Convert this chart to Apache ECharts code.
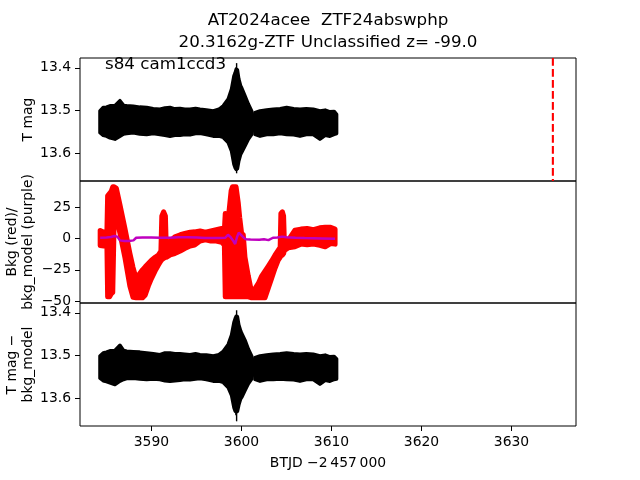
<!DOCTYPE html>
<html><head><meta charset="utf-8">
<script src="https://cdn.jsdelivr.net/npm/echarts@6/dist/echarts.min.js"></script>
<style>html,body{margin:0;padding:0;background:#fff}#c{width:640px;height:480px}</style>
</head><body><div id="c"></div>
<script>
// ---------- tick labels ----------
const xTicks = [3590, 3600, 3610, 3620, 3630];
const magTicks = [13.4, 13.5, 13.6];
const bkgTicks = [-50, -25, 0, 25];

// ---------- panel 1: T mag (band envelope) ----------
const magT1  = [3584.28,3584.64,3585.0,3585.39,3585.94,3586.5,3586.9,3587.24,3587.98,3588.7,3589.47,3590.2,3590.94,3591.5,3592.06,3592.6,3593.17,3593.7,3594.28,3594.9,3595.39,3596.1,3596.87,3597.5,3597.98,3598.53,3598.9,3599.17,3599.3,3599.42,3599.55,3599.7,3599.9,3600.02,3600.39,3600.76,3601.13,3601.31];
const magHi1 = [13.501,13.493,13.492,13.489,13.489,13.477,13.488,13.489,13.490,13.492,13.493,13.496,13.497,13.494,13.493,13.496,13.495,13.497,13.497,13.495,13.497,13.499,13.501,13.497,13.489,13.473,13.450,13.419,13.412,13.403,13.405,13.426,13.442,13.447,13.466,13.485,13.501,13.520];
const magLo1 = [13.552,13.558,13.560,13.564,13.567,13.560,13.555,13.554,13.552,13.555,13.556,13.554,13.556,13.558,13.560,13.558,13.558,13.556,13.557,13.554,13.553,13.556,13.560,13.560,13.563,13.575,13.595,13.626,13.634,13.638,13.636,13.618,13.603,13.598,13.583,13.567,13.556,13.536];
const magT1b  = [3601.5,3602.06,3602.8,3603.54,3604.3,3605.02,3605.8,3606.5,3607.2,3607.98,3608.72,3609.3,3609.83,3610.3,3610.57];
const magHi1b = [13.505,13.501,13.499,13.497,13.496,13.493,13.496,13.497,13.496,13.497,13.501,13.499,13.503,13.502,13.509];
const magLo1b = [13.556,13.560,13.556,13.556,13.554,13.556,13.557,13.560,13.556,13.556,13.567,13.558,13.560,13.556,13.554];
const errT1  = [3599.46, 3599.38];
const errHi1 = [13.389, 13.405];
const errLo1 = [13.647, 13.640];
const markerT = [3634.6];   // red dashed vertical line

// ---------- panel 2: background (red) and bkg_model (purple) ----------
const bkgT  = [3584.30,3584.70,3585.05,3585.13,3585.35,3585.55,3585.70,3585.85,3586.10,3586.50,3587.06,3587.60,3587.95,3588.30,3588.60,3589.00,3589.30,3589.65,3590.00,3590.40,3590.76,3591.05,3591.15,3591.35,3591.55,3591.65,3592.10,3592.60,3593.20,3593.70,3594.30,3594.80,3595.40,3596.00,3596.60,3597.20,3597.80,3598.10,3598.20,3598.55,3598.85,3599.00,3599.40,3599.65,3599.80,3600.02,3600.20,3600.39,3600.76,3601.13,3601.50,3601.87,3602.24,3602.61,3602.98,3603.35,3603.72,3604.09,3604.30,3604.38,3604.55,3604.68,3604.78,3605.20,3605.94,3606.60,3607.30,3608.00,3608.70,3609.30,3609.90,3610.40];
const bkgHi = [6.4,5.0,6.0,34.0,36.0,38.0,41.3,41.3,40.0,27.0,7.7,-11.7,-23.0,-32.0,-29.0,-25.0,-22.6,-20.0,-17.3,-15.0,-13.3,-10.0,18.0,21.3,18.0,-8.0,-2.0,1.4,3.0,4.0,5.0,5.3,6.0,5.0,6.0,7.0,8.0,6.6,20.0,17.0,38.0,41.3,41.3,28.0,17.0,4.0,3.0,-15.0,-30.0,-43.0,-40.0,-35.9,-30.0,-26.0,-22.0,-17.9,-13.3,-9.3,-7.0,20.0,21.3,18.0,-5.5,-1.3,6.6,7.5,8.0,7.0,8.5,9.0,9.0,7.5];
const bkgLo = [-5.6,-6.0,-6.0,-46.6,-46.6,-44.0,-43.0,12.0,17.6,4.0,-15.6,-38.0,-47.0,-47.4,-47.4,-47.4,-45.3,-38.0,-32.0,-26.0,-21.3,-18.0,-17.0,-16.0,-15.0,-15.0,-13.0,-12.0,-10.0,-8.0,-6.0,-5.3,-2.0,-1.0,-2.0,-2.0,-3.0,-5.3,-46.6,-46.6,-46.6,-46.6,-46.6,-46.6,-46.6,-46.6,-46.6,-46.6,-46.6,-47.4,-47.4,-47.4,-47.4,-47.4,-39.6,-31.9,-24.0,-17.3,-15.0,-14.0,-13.3,-12.0,-9.5,-7.5,-6.6,-4.5,-5.0,-4.5,-5.5,-6.6,-4.0,-4.5];
const modelT = [3584.3,3585.0,3585.5,3585.9,3586.2,3586.5,3587.0,3587.5,3588.0,3588.3,3589.0,3590.0,3591.0,3592.0,3593.0,3594.0,3595.0,3596.0,3597.0,3597.5,3598.2,3598.5,3598.8,3599.1,3599.3,3599.5,3599.7,3599.9,3600.2,3600.5,3601.0,3602.0,3602.5,3603.0,3603.5,3604.0,3604.5,3605.0,3606.0,3607.0,3608.0,3609.0,3610.4];
const modelV = [0.6,0.8,1.2,2.0,1.5,-1.5,-2.0,-2.0,-1.5,0.6,0.8,0.8,0.6,0.6,1.0,1.0,0.8,0.4,0.3,0.4,0.6,3.0,1.0,-2.0,-4.4,1.0,4.6,4.0,1.0,-0.6,-0.8,-1.0,-0.6,-1.3,0.6,0.8,1.5,1.0,0.6,0.3,0.2,0.0,-0.3];

// ---------- panel 3: T mag - bkg_model ----------
const magT3  = [3584.28,3584.64,3585.0,3585.39,3585.94,3586.5,3586.9,3587.24,3587.98,3588.7,3589.47,3590.2,3590.94,3591.5,3592.06,3592.6,3593.17,3593.7,3594.28,3594.9,3595.39,3596.1,3596.87,3597.5,3597.98,3598.53,3598.9,3599.17,3599.3,3599.42,3599.55,3599.7,3599.9,3600.02,3600.39,3600.76,3601.13,3601.31];
const magHi3 = [13.501,13.494,13.492,13.489,13.488,13.476,13.488,13.490,13.491,13.492,13.494,13.496,13.498,13.494,13.494,13.496,13.496,13.497,13.498,13.496,13.498,13.499,13.501,13.498,13.490,13.474,13.452,13.422,13.414,13.408,13.409,13.428,13.442,13.448,13.464,13.485,13.501,13.520];
const magLo3 = [13.553,13.559,13.561,13.564,13.568,13.560,13.556,13.554,13.553,13.555,13.556,13.555,13.556,13.559,13.560,13.559,13.558,13.556,13.557,13.555,13.554,13.556,13.560,13.560,13.563,13.575,13.593,13.622,13.630,13.632,13.631,13.616,13.602,13.598,13.582,13.566,13.555,13.536];
const magT3b  = [3601.5,3602.06,3602.8,3603.54,3604.3,3605.02,3605.8,3606.5,3607.2,3607.98,3608.72,3609.3,3609.83,3610.3,3610.57];
const magHi3b = [13.505,13.501,13.499,13.497,13.496,13.494,13.496,13.497,13.496,13.497,13.501,13.499,13.503,13.502,13.508];
const magLo3b = [13.556,13.560,13.556,13.556,13.555,13.556,13.557,13.560,13.556,13.556,13.567,13.558,13.560,13.556,13.555];
const errT3  = [3599.46, 3599.38];
const errHi3 = [13.394, 13.408];
const errLo3 = [13.654, 13.640];

// ---------- layout / style ----------
const X_MIN = 3582.06, X_MAX = 3637.17;
const MAG_MIN = 13.377, MAG_MAX = 13.665;
const BKG_MIN = -51.5, BKG_MAX = 45.9;
const FONT = 'DejaVu Sans';
const grids = [
  {left: 80, top: 58, width: 496, height: 123},
  {left: 80, top: 181, width: 496, height: 122},
  {left: 80, top: 303, width: 496, height: 123}
];
const minusFmt = v => String(v).replace('-', '\u2212');

function xAxis(i, showLabels) {
  return {
    type: 'value', gridIndex: i, min: X_MIN, max: X_MAX,
    axisLine: {show: false}, splitLine: {show: false},
    axisTick: {show: showLabels, length: 5, lineStyle: {color: '#000'}, customValues: xTicks},
    axisLabel: {show: showLabels, customValues: xTicks, margin: 9, color: '#000',
      fontFamily: FONT, fontSize: 13.9, formatter: v => String(v)}
  };
}
function yAxis(i, min, max, ticks, inverse) {
  return {
    type: 'value', gridIndex: i, min: min, max: max, inverse: inverse,
    axisLine: {show: false}, splitLine: {show: false},
    axisTick: {show: true, length: 5, lineStyle: {color: '#000'}, customValues: ticks},
    axisLabel: {customValues: ticks, margin: 9, color: '#000',
      fontFamily: FONT, fontSize: 13.9, formatter: minusFmt}
  };
}
function band(idx, T, HI, LO, color, lw) {
  return {
    type: 'custom', xAxisIndex: idx, yAxisIndex: idx, silent: true, clip: true,
    data: [[T[0], HI[0]]],
    renderItem: function (params, api) {
      const pts = [];
      for (let i = 0; i < T.length; i++) pts.push(api.coord([T[i], HI[i]]));
      for (let i = T.length - 1; i >= 0; i--) pts.push(api.coord([T[i], LO[i]]));
      return {type: 'polygon', shape: {points: pts},
        style: {fill: color, stroke: color, lineWidth: lw, lineJoin: 'round'}};
    }
  };
}
function errbars(idx, T, HI, LO) {
  return {
    type: 'custom', xAxisIndex: idx, yAxisIndex: idx, silent: true,
    data: T.map((t, i) => [t, HI[i], LO[i]]),
    renderItem: function (params, api) {
      const a = api.coord([api.value(0), api.value(1)]);
      const b = api.coord([api.value(0), api.value(2)]);
      return {type: 'line', shape: {x1: a[0], y1: a[1], x2: b[0], y2: b[1]},
        style: {stroke: '#000', lineWidth: 1.4}};
    }
  };
}
function txt(x, y, text, size, align, rot) {
  return {type: 'text', x: x, y: y, rotation: rot || 0,
    style: {text: text, font: size + 'px "' + FONT + '"', fill: '#000',
      textAlign: align || 'center', textVerticalAlign: 'middle',
      align: align || 'center', verticalAlign: 'middle', lineHeight: 16}};
}

const chart = echarts.init(document.getElementById('c'), null, {renderer: 'canvas'});
chart.setOption({
  animation: false,
  backgroundColor: '#fff',
  grid: grids.map(g => Object.assign({show: true, borderColor: '#000', borderWidth: 1, backgroundColor: 'transparent'}, g)),
  xAxis: [xAxis(0, false), xAxis(1, false), xAxis(2, true)],
  yAxis: [
    yAxis(0, MAG_MIN, MAG_MAX, magTicks, true),
    yAxis(1, BKG_MIN, BKG_MAX, bkgTicks, false),
    yAxis(2, MAG_MIN, MAG_MAX, magTicks, true)
  ],
  series: [
    band(0, magT1, magHi1, magLo1, '#000', 3.5),
    band(0, magT1b, magHi1b, magLo1b, '#000', 3.5),
    errbars(0, errT1, errHi1, errLo1),
    {type: 'line', xAxisIndex: 0, yAxisIndex: 0, silent: true, showSymbol: false,
      data: [[markerT[0], MAG_MIN], [markerT[0], MAG_MAX]],
      lineStyle: {color: '#ff0000', width: 2.1, type: [7.7, 3.3]}},
    band(1, bkgT, bkgHi, bkgLo, '#ff0000', 5),
    {type: 'line', xAxisIndex: 1, yAxisIndex: 1, silent: true, showSymbol: false,
      data: modelT.map((t, i) => [t, modelV[i]]),
      lineStyle: {color: '#bf00bf', width: 2.5}},
    band(2, magT3, magHi3, magLo3, '#000', 3.5),
    band(2, magT3b, magHi3b, magLo3b, '#000', 3.5),
    errbars(2, errT3, errHi3, errLo3)
  ],
  graphic: [
    txt(328, 21, 'AT2024acee  ZTF24abswphp', 16.7),
    txt(328, 42.5, '20.3162g-ZTF Unclassified z= -99.0', 16.7),
    txt(105, 65, 's84 cam1ccd3', 16.7, 'left'),
    txt(328, 463, 'BTJD \u22122\u2009457\u2009000', 13.9),
    txt(28, 119.5, 'T mag', 13.9, 'center', Math.PI / 2),
    txt(20, 242, 'Bkg (red)/\nbkg_model (purple)', 13.9, 'center', Math.PI / 2),
    txt(20, 364.5, 'T mag \u2212\nbkg_model', 13.9, 'center', Math.PI / 2)
  ]
});
</script>
</body></html>
